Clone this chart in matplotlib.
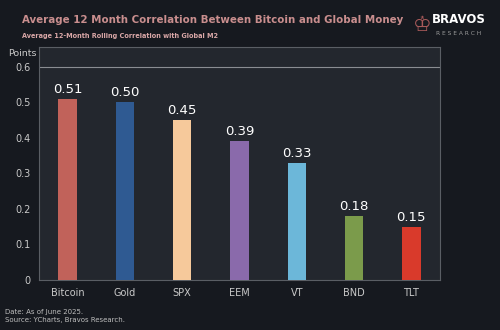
import matplotlib.pyplot as plt

names = ["Bitcoin", "Gold", "SPX", "EEM", "VT", "BND", "TLT"]
corr = [0.51, 0.50, 0.45, 0.39, 0.33, 0.18, 0.15]
colors = ["#c1625a", "#2f5a92", "#f6c99b", "#8a6aab", "#6cb7d9", "#7b9b4b", "#d93a2b"]
yticks = [0, 0.1, 0.2, 0.3, 0.4, 0.5, 0.6]

bg = "#16191f"
panel = "#23272e"

fig = plt.figure(figsize=(5, 3.3), dpi=100, facecolor=bg)
ax = fig.add_axes([0.078, 0.152, 0.802, 0.706], facecolor=panel)

x = range(len(names))
ax.bar(x, corr, width=0.32, color=colors, zorder=3)
for xi, v in zip(x, corr):
    ax.text(xi, v + 0.008, f"{v:.2f}", ha="center", va="bottom",
            color="white", fontsize=9.5, zorder=4)

ax.set_xlim(-0.5, len(names) - 0.5)
ax.set_ylim(0, 0.656)
ax.set_xticks(list(x))
ax.set_xticklabels(names)
ax.set_yticks(yticks)
ax.set_yticklabels(["0" if t == 0 else f"{t:.1f}" for t in yticks])
ax.tick_params(colors="#c9c9c9", labelsize=7, length=0, pad=6)
ax.axhline(0.6, color="#8a8d92", lw=0.8, zorder=2)
for s in ax.spines.values():
    s.set_color("#5a5e64")
    s.set_linewidth(0.8)

fig.text(0.044, 0.838, "Points", color="#c9c9c9", fontsize=6.8, ha="center", va="center")

fig.text(0.043, 0.94, "Average 12 Month Correlation Between Bitcoin and Global Money",
         color="#c98e8e", fontsize=7.4, fontweight="bold", ha="left", va="center")
fig.text(0.043, 0.892, "Average 12-Month Rolling Correlation with Global M2",
         color="#d9a7a7", fontsize=4.7, fontweight="bold", ha="left", va="center")

# logo
fig.text(0.845, 0.925, "\u2654", color="#a85a5a", fontsize=15, ha="center", va="center",
         family=["DejaVu Sans"])
fig.text(0.918, 0.94, "BRAVOS", color="white", fontsize=8.5, fontweight="bold",
         ha="center", va="center")
fig.text(0.918, 0.897, "R E S E A R C H", color="#9a9a9a", fontsize=4.2,
         ha="center", va="center")

fig.text(0.01, 0.055, "Date: As of June 2025.", color="#bdbdbd", fontsize=5, ha="left", va="center")
fig.text(0.01, 0.03, "Source: YCharts, Bravos Research.", color="#bdbdbd", fontsize=5,
         ha="left", va="center")

fig.savefig("out.png", dpi=100, facecolor=bg)
